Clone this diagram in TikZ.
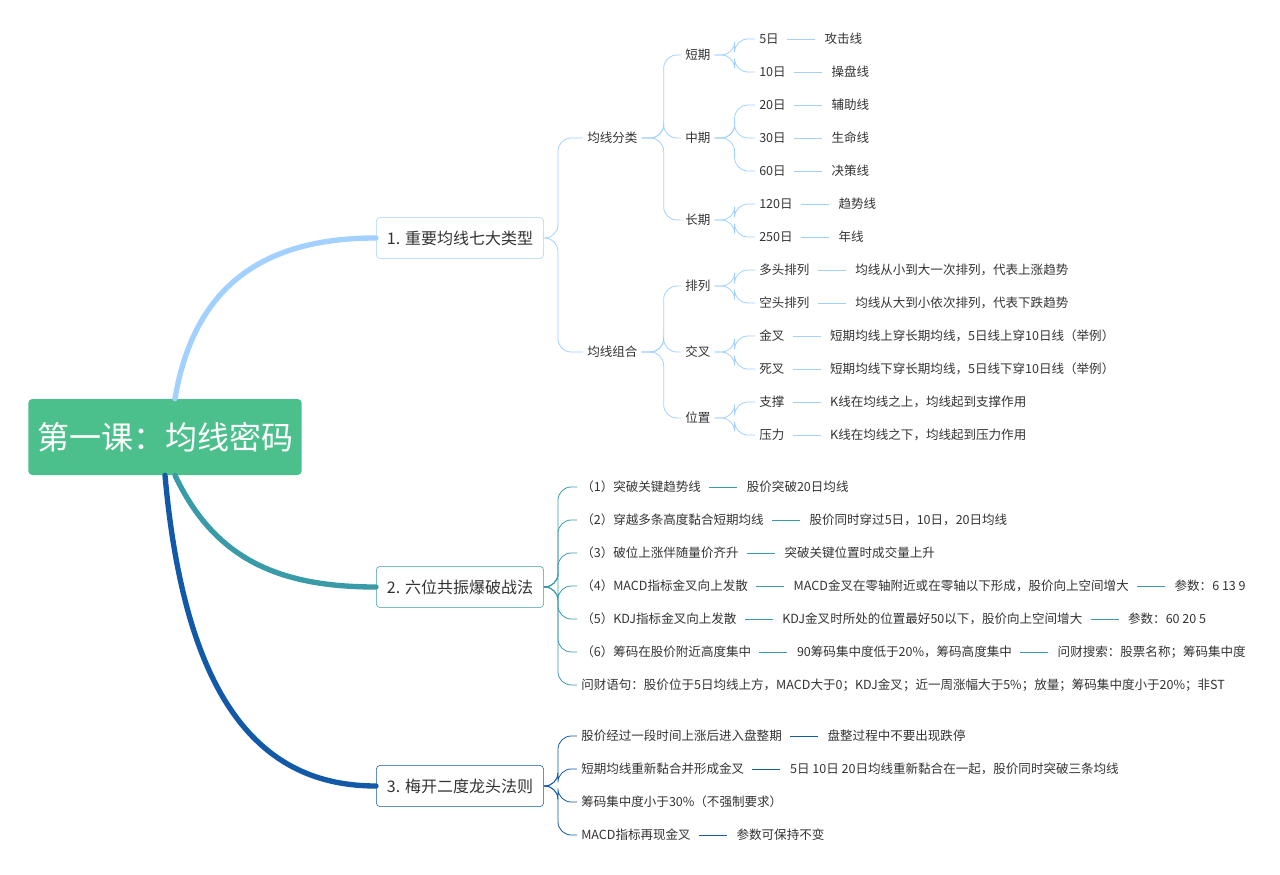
\documentclass[tikz,border=0pt]{standalone}
\usepackage{fontspec}
\setmainfont{Noto Sans CJK SC}
\usetikzlibrary{positioning}
\definecolor{rootgreen}{HTML}{4CC08C}
\definecolor{skyb}{HTML}{A2D0FF}
\definecolor{tealb}{HTML}{3A9BA8}
\definecolor{deepb}{HTML}{1259A8}
\tikzset{
  leaf/.style={anchor=west,inner xsep=3pt,inner ysep=1pt,font=\fontsize{9.4}{10}\selectfont,text=black!80},
  topic/.style={draw=#1,fill=white,rounded corners=3pt,minimum height=31pt,inner xsep=8pt,font=\fontsize{12}{14}\selectfont,text=black!80},
  bough/.style={#1,line width=4pt,line cap=round},
  twig/.style={#1,line width=0.6pt,rounded corners=10pt},
  link/.style={#1,line width=0.6pt}
}
\newcommand{\fork}[4]{\draw[twig=#1] (#2.east) -- ++(#3,0) |- (#4.west);}
\begin{document}
\begin{tikzpicture}[x=0.75pt,y=-0.75pt]
  \useasboundingbox (0,0) rectangle (1280,874);

  % root and main topics
  \node[fill=rootgreen,rounded corners=3pt,minimum width=205pt,minimum height=57pt,text=white,font=\fontsize{24}{27}\selectfont] (root) at (165,437) {第一课：均线密码};
  \node[topic=skyb,anchor=west] (t1) at (376,238) {1. 重要均线七大类型};
  \node[topic=tealb,anchor=west] (t2) at (376,587) {2. 六位共振爆破战法};
  \node[topic=deepb,anchor=west] (t3) at (376,786) {3. 梅开二度龙头法则};
  \draw[bough=skyb] (root.north) ++(10,0) .. controls (195,280) and (270,238) .. (t1.west);
  \draw[bough=tealb] (root.south) ++(10,0) .. controls (215,560) and (280,587) .. (t2.west);
  \draw[bough=deepb] (root.south) .. controls (185,700) and (260,786) .. (t3.west);

  % topic 1
  \node[leaf] (cls) at (583,138) {均线分类};
  \node[leaf] (cmb) at (583,352) {均线组合};
  \foreach \n in {cls,cmb} {\fork{skyb}{t1}{14}{\n}}
  \node[leaf] (sht) at (681,55) {短期};
  \node[leaf] (mid) at (681,138) {中期};
  \node[leaf] (lng) at (681,220) {长期};
  \foreach \n in {sht,mid,lng} {\fork{skyb}{cls}{22}{\n}}
  \node[leaf] (pl) at (681,286) {排列};
  \node[leaf] (cx) at (681,352) {交叉};
  \node[leaf] (wz) at (681,418) {位置};
  \foreach \n in {pl,cx,wz} {\fork{skyb}{cmb}{22}{\n}}
  \node[leaf] (d5) at (755,39) {5日};
  \node[leaf] (d10) at (755,72) {10日};
  \fork{skyb}{sht}{20}{d5} \fork{skyb}{sht}{20}{d10}
  \node[leaf] (d20) at (755,105) {20日};
  \node[leaf] (d30) at (755,138) {30日};
  \node[leaf] (d60) at (755,171) {60日};
  \foreach \n in {d20,d30,d60} {\fork{skyb}{mid}{20}{\n}}
  \node[leaf] (d120) at (755,204) {120日};
  \node[leaf] (d250) at (755,237) {250日};
  \fork{skyb}{lng}{20}{d120} \fork{skyb}{lng}{20}{d250}
  \node[leaf] (dt) at (755,270) {多头排列};
  \node[leaf] (kt) at (755,303) {空头排列};
  \fork{skyb}{pl}{20}{dt} \fork{skyb}{pl}{20}{kt}
  \node[leaf] (jc) at (755,336) {金叉};
  \node[leaf] (sc) at (755,369) {死叉};
  \fork{skyb}{cx}{20}{jc} \fork{skyb}{cx}{20}{sc}
  \node[leaf] (zc) at (755,402) {支撑};
  \node[leaf] (yl) at (755,435) {压力};
  \fork{skyb}{wz}{20}{zc} \fork{skyb}{wz}{20}{yl}
  \node[leaf,right=28pt of d5] (e5) {攻击线};
  \node[leaf,right=28pt of d10] (e10) {操盘线};
  \node[leaf,right=28pt of d20] (e20) {辅助线};
  \node[leaf,right=28pt of d30] (e30) {生命线};
  \node[leaf,right=28pt of d60] (e60) {决策线};
  \node[leaf,right=28pt of d120] (e120) {趋势线};
  \node[leaf,right=28pt of d250] (e250) {年线};
  \node[leaf,right=28pt of dt] (edt) {均线从小到大一次排列，代表上涨趋势};
  \node[leaf,right=28pt of kt] (ekt) {均线从大到小依次排列，代表下跌趋势};
  \node[leaf,right=28pt of jc] (ejc) {短期均线上穿长期均线，5日线上穿10日线（举例）};
  \node[leaf,right=28pt of sc] (esc) {短期均线下穿长期均线，5日线下穿10日线（举例）};
  \node[leaf,right=28pt of zc] (ezc) {K线在均线之上，均线起到支撑作用};
  \node[leaf,right=28pt of yl] (eyl) {K线在均线之下，均线起到压力作用};
  \foreach \a/\b in {d5/e5,d10/e10,d20/e20,d30/e30,d60/e60,d120/e120,d250/e250,dt/edt,kt/ekt,jc/ejc,sc/esc,zc/ezc,yl/eyl}
    {\draw[link=skyb] (\a.east) ++(4,0) -- ([xshift=-4]\b.west);}

  % topic 2
  \node[leaf] (s1) at (577,487) {（1）突破关键趋势线};
  \node[leaf] (s2) at (577,520) {（2）穿越多条高度黏合短期均线};
  \node[leaf] (s3) at (577,553) {（3）破位上涨伴随量价齐升};
  \node[leaf] (s4) at (577,586) {（4）MACD指标金叉向上发散};
  \node[leaf] (s5) at (577,619) {（5）KDJ指标金叉向上发散};
  \node[leaf] (s6) at (577,652) {（6）筹码在股价附近高度集中};
  \node[leaf] (s7) at (577,685) {问财语句：股价位于5日均线上方，MACD大于0；KDJ金叉；近一周涨幅大于5\%；放量；筹码集中度小于20\%；非ST};
  \foreach \n in {s1,s2,s3,s4,s5,s6,s7} {\fork{tealb}{t2}{14}{\n}}
  \node[leaf,right=28pt of s1] (r1) {股价突破20日均线};
  \node[leaf,right=28pt of s2] (r2) {股价同时穿过5日，10日，20日均线};
  \node[leaf,right=28pt of s3] (r3) {突破关键位置时成交量上升};
  \node[leaf,right=28pt of s4] (r4) {MACD金叉在零轴附近或在零轴以下形成，股价向上空间增大};
  \node[leaf,right=28pt of r4] (q4) {参数：6 13 9};
  \node[leaf,right=28pt of s5] (r5) {KDJ金叉时所处的位置最好50以下，股价向上空间增大};
  \node[leaf,right=28pt of r5] (q5) {参数：60 20 5};
  \node[leaf,right=28pt of s6] (r6) {90筹码集中度低于20\%，筹码高度集中};
  \node[leaf,right=28pt of r6] (q6) {问财搜索：股票名称；筹码集中度};
  \foreach \a/\b in {s1/r1,s2/r2,s3/r3,s4/r4,r4/q4,s5/r5,r5/q5,s6/r6,r6/q6}
    {\draw[link=tealb] (\a.east) ++(4,0) -- ([xshift=-4]\b.west);}

  % topic 3
  \node[leaf] (m1) at (577,736) {股价经过一段时间上涨后进入盘整期};
  \node[leaf] (m2) at (577,769) {短期均线重新黏合并形成金叉};
  \node[leaf] (m3) at (577,802) {筹码集中度小于30\%（不强制要求）};
  \node[leaf] (m4) at (577,835) {MACD指标再现金叉};
  \foreach \n in {m1,m2,m3,m4} {\fork{deepb}{t3}{14}{\n}}
  \node[leaf,right=28pt of m1] (n1) {盘整过程中不要出现跌停};
  \node[leaf,right=28pt of m2] (n2) {5日 10日 20日均线重新黏合在一起，股价同时突破三条均线};
  \node[leaf,right=28pt of m4] (n4) {参数可保持不变};
  \foreach \a/\b in {m1/n1,m2/n2,m4/n4}
    {\draw[link=deepb] (\a.east) ++(4,0) -- ([xshift=-4]\b.west);}
\end{tikzpicture}
\end{document}
